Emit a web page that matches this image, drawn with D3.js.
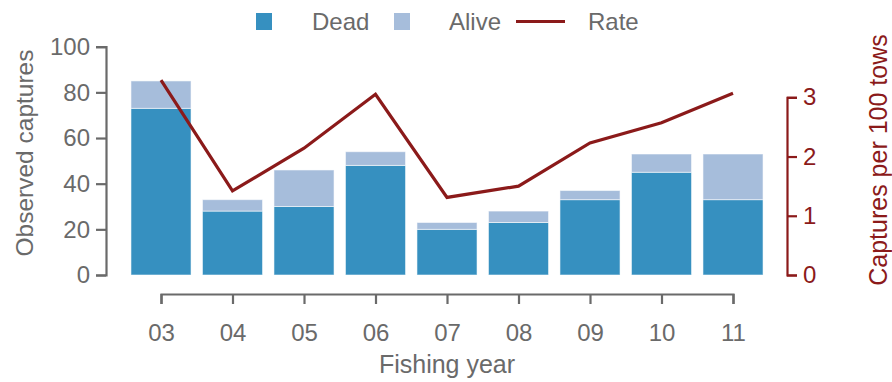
<!DOCTYPE html>
<html>
<head>
<meta charset="utf-8">
<script src="https://cdn.jsdelivr.net/npm/d3@7"></script>
<style>
  html, body { margin: 0; padding: 0; background: #fff; }
  svg { display: block; font-family: "Liberation Sans", Arial, Helvetica, sans-serif; }
</style>
</head>
<body>
<svg id="chart" width="892" height="382"></svg>
<script>
// Fishing years and observed captures per year
const years = ["03", "04", "05", "06", "07", "08", "09", "10", "11"];
const dead  = [73, 28, 30, 48, 20, 23, 33, 45, 33];
const alive = [12, 5, 16, 6, 3, 5, 4, 8, 20];
// Captures per 100 tows
const rate  = [3.29, 1.42, 2.14, 3.05, 1.31, 1.50, 2.23, 2.57, 3.07];
const leftTicks  = [0, 20, 40, 60, 80, 100];
const rightTicks = [0, 1, 2, 3];

const grey = "#6a6a6a";
const red = "#8b1a1a";
const deadColor = "#3690c0";
const aliveColor = "#a6bddb";

const svg = d3.select("#chart");

const xPoint = d3.scalePoint().domain(years).range([161, 733]);
const step = xPoint.step();
const xBand = d3.scaleBand().domain(years)
  .range([161 - step / 2, 733 + step / 2])
  .paddingInner(0.16).paddingOuter(0.08);

const yLeft = d3.scaleLinear().domain([0, 100]).range([275, 46.7]);
const yRight = d3.scaleLinear().domain([0, 3]).range([275, 97.3]);

// stacked bars: dead at the bottom, alive on top
const rows = years.map((y, i) => ({ year: y, dead: dead[i], alive: alive[i] }));
const stack = d3.stack().keys(["dead", "alive"])(rows);
const colors = { dead: deadColor, alive: aliveColor };

svg.append("g").selectAll("g").data(stack).join("g")
  .attr("fill", d => colors[d.key])
  .selectAll("rect").data(d => d).join("rect")
  .attr("x", d => xBand(d.data.year))
  .attr("width", xBand.bandwidth())
  .attr("y", d => yLeft(d[1]))
  .attr("height", d => yLeft(d[0]) - yLeft(d[1]))
  .attr("stroke", "#ffffff")
  .attr("stroke-opacity", 0.55)
  .attr("stroke-width", 1);

// capture rate line
const line = d3.line().x((d, i) => xPoint(years[i])).y(d => yRight(d));
svg.append("path").datum(rate)
  .attr("d", line)
  .attr("fill", "none")
  .attr("stroke", red)
  .attr("stroke-width", 3.2)
  .attr("stroke-linejoin", "miter");

// axes
function styleAxis(g, color) {
  g.select(".domain").attr("stroke", color).attr("stroke-width", 2.2);
  g.selectAll(".tick line").attr("stroke", color).attr("stroke-width", 2.2);
  g.selectAll(".tick text").attr("fill", color).attr("font-size", 24)
    .attr("font-family", "Liberation Sans, Arial, sans-serif");
}

const gLeft = svg.append("g").attr("transform", "translate(106,0)")
  .call(d3.axisLeft(yLeft).tickValues(leftTicks).tickSize(10).tickPadding(6));
styleAxis(gLeft, grey);

const gRight = svg.append("g").attr("transform", "translate(787,0)")
  .call(d3.axisRight(yRight).tickValues(rightTicks).tickFormat(d3.format("d")).tickSize(10).tickPadding(6));
styleAxis(gRight, red);

const gBottom = svg.append("g").attr("transform", "translate(0,294)")
  .call(d3.axisBottom(xPoint).tickSize(10).tickPadding(20));
styleAxis(gBottom, grey);

// axis titles
svg.append("text")
  .attr("transform", "translate(33,153) rotate(-90)")
  .attr("text-anchor", "middle")
  .attr("fill", grey).attr("font-size", 24.5)
  .text("Observed captures");

svg.append("text")
  .attr("transform", "translate(887,160) rotate(-90)")
  .attr("text-anchor", "middle")
  .attr("fill", red).attr("font-size", 25)
  .text("Captures per 100 tows");

svg.append("text")
  .attr("x", 447).attr("y", 373)
  .attr("text-anchor", "middle")
  .attr("fill", grey).attr("font-size", 25)
  .text("Fishing year");

// legend
const legend = svg.append("g");
legend.append("rect").attr("x", 256).attr("y", 13).attr("width", 16).attr("height", 17).attr("fill", deadColor);
legend.append("text").attr("x", 312).attr("y", 30).attr("fill", grey).attr("font-size", 24).text("Dead");
legend.append("rect").attr("x", 394).attr("y", 13).attr("width", 16).attr("height", 17).attr("fill", aliveColor);
legend.append("text").attr("x", 449).attr("y", 30).attr("fill", grey).attr("font-size", 24).text("Alive");
legend.append("line").attr("x1", 516).attr("x2", 565).attr("y1", 21.5).attr("y2", 21.5)
  .attr("stroke", red).attr("stroke-width", 3);
legend.append("text").attr("x", 588).attr("y", 30).attr("fill", grey).attr("font-size", 24).text("Rate");
</script>
</body>
</html>
